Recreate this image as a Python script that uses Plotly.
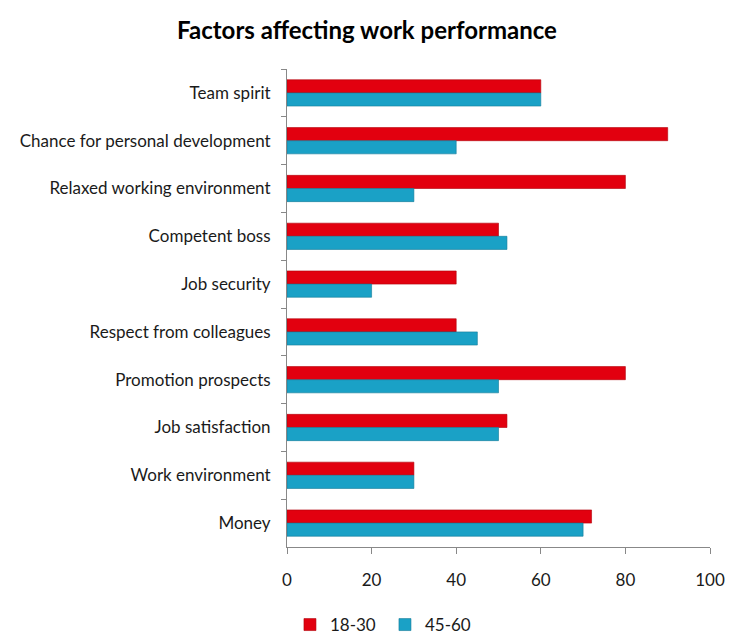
import plotly.graph_objects as go

categories = ["Team spirit", "Chance for personal development", "Relaxed working environment",
              "Competent boss", "Job security", "Respect from colleagues", "Promotion prospects",
              "Job satisfaction", "Work environment", "Money"]
age_18_30 = [60, 90, 80, 50, 40, 40, 80, 52, 30, 72]
age_45_60 = [60, 40, 30, 52, 20, 45, 50, 50, 30, 70]
x_ticks = [0, 20, 40, 60, 80, 100]

FONT = "Lato, 'Open Sans', sans-serif"
W, H = 727, 628

fig = go.Figure()
fig.add_trace(go.Bar(y=categories, x=age_18_30, name="18-30", orientation="h",
                     marker=dict(color="#E2000F", line=dict(color="#B0000A", width=0.6))))
fig.add_trace(go.Bar(y=categories, x=age_45_60, name="45-60", orientation="h",
                     marker=dict(color="#1AA1C6", line=dict(color="#137A97", width=0.6))))

fig.update_layout(
    width=W, height=H,
    barmode="group", bargap=0.45, bargroupgap=0,
    plot_bgcolor="white", paper_bgcolor="white",
    margin=dict(l=279, r=W - 702, t=61, b=H - 539, autoexpand=False),
    font=dict(family=FONT, size=17, color="#1a1a1a"),
    title=dict(text="<b>Factors affecting work performance</b>", x=359 / W, xref="container",
               xanchor="center", y=1 - 23 / H, yanchor="middle",
               font=dict(family=FONT, size=24, color="#000000")),
    legend=dict(orientation="h", x=0.007, xanchor="left", yref="container",
                y=(H - 617) / H, yanchor="middle",
                font=dict(size=17), traceorder="normal", entrywidth=50),
    showlegend=True,
)
fig.update_xaxes(range=[0, 100], tickvals=x_ticks, showgrid=False, zeroline=False,
                 showline=True, linecolor="#888888", linewidth=1,
                 ticks="outside", ticklen=6, tickcolor="#888888",
                 ticklabelstandoff=12, tickfont=dict(size=17))
fig.update_yaxes(autorange="reversed", showgrid=False, showline=True, linecolor="#888888",
                 linewidth=1, ticks="outside", ticklen=5, tickcolor="#888888",
                 tickson="boundaries", ticklabelstandoff=12, tickfont=dict(size=17))

fig.write_html("out.html")
